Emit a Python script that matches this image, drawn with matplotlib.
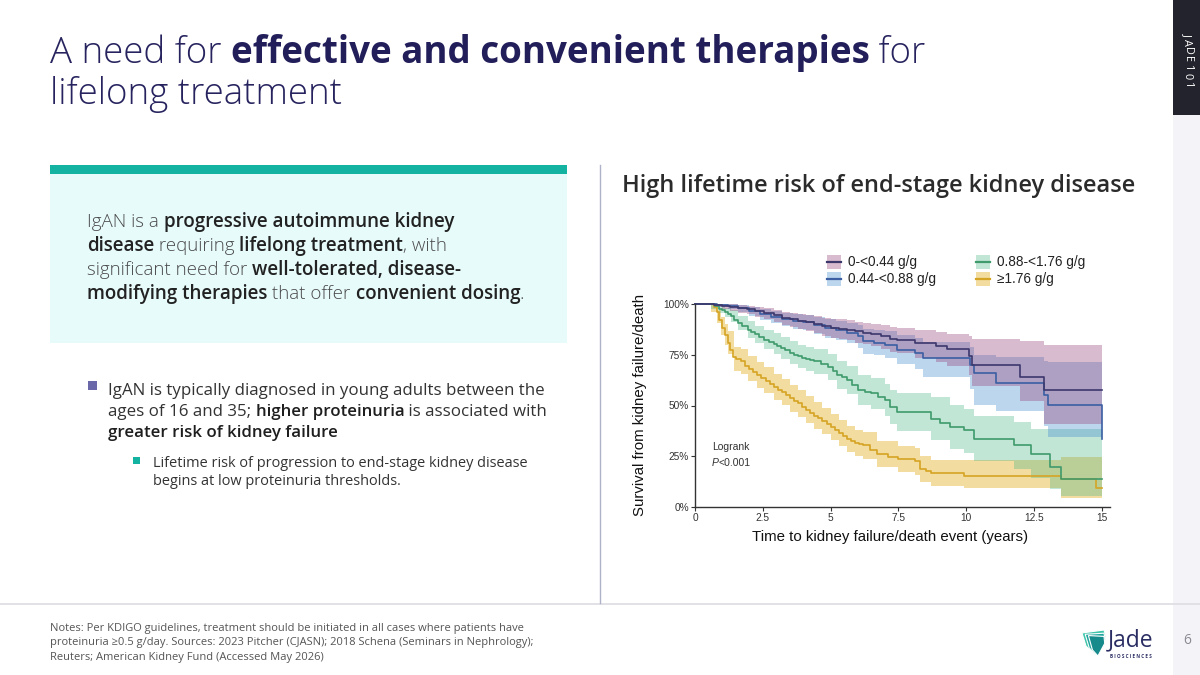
import numpy as np
import matplotlib.pyplot as plt
from matplotlib.patches import Rectangle, Polygon
from matplotlib.lines import Line2D
from matplotlib.font_manager import FontProperties

W, H = 1200, 675

# Kaplan-Meier curves (years, % surviving)
# lines and confidence bands use their own time grids
purple_t = [0, 0.7, 1.0, 1.3, 1.6, 1.9, 2.2, 2.55, 2.9, 3.2, 3.5, 3.8, 4.1, 4.4, 4.7, 5.0,
            5.3, 5.6, 5.9, 6.2, 6.5, 6.85, 7.2, 7.45, 8.1, 8.9, 9.3, 10.1, 10.2, 12.0, 12.85, 15.0]
purple_s = [100, 99.5, 99, 98.5, 98, 97.4, 96.5, 95.7, 94.5, 93.2, 92.5, 91.6, 91, 90, 89, 88.2,
            87.8, 87.4, 86.5, 85.8, 85, 84, 83, 82.5, 80.8, 79.1, 77.8, 74.2, 70, 64.2, 57.6, 57.6]
purple_hi = [100, 100, 100, 99.8, 99.5, 99.2, 98.6, 98, 97.2, 96.3, 95.8, 95, 94.6, 94, 93.3, 92.7,
             92.4, 92, 91.3, 90.8, 90.2, 89.5, 88.8, 88.4, 87.2, 86, 85.3, 84, 83, 82, 80, 80]
purple_lo = [100, 98.5, 97.5, 96.5, 95.8, 95, 93.8, 92.8, 91.3, 89.6, 88.7, 87.6, 86.8, 85.6, 84.4, 83.3,
             82.8, 82.2, 81, 80.1, 79.1, 77.8, 76.5, 75.8, 73.5, 71.3, 69.6, 64.8, 59.5, 52, 41, 41]

blue_t = [0, 0.8, 1.2, 1.6, 2.0, 2.4, 2.8, 3.2, 3.6, 4.0, 4.4, 4.8, 5.2, 5.6, 6.0, 6.2, 6.6,
          7.0, 7.45, 8.1, 8.4, 10.15, 10.3, 11.1, 12.85, 13.0, 15.0]
blue_s = [100, 99.5, 99, 98, 96.5, 95, 93.5, 92.5, 91.5, 91, 89.5, 88, 87, 85.8, 84, 81.6, 81,
          80, 77.5, 75.8, 73.3, 70, 66, 61, 55.1, 50.2, 33.6]
blue_hi = [100, 100, 100, 99.6, 98.6, 97.6, 96.5, 95.8, 95, 94.7, 93.6, 92.5, 91.7, 90.8, 89.5, 87.6, 87.2,
           86.5, 84.6, 83.3, 81.5, 79, 75, 74, 72, 71.5, 71.5]
blue_lo = [100, 98.5, 97.5, 96.2, 94.2, 92.3, 90.4, 89.1, 87.9, 87.2, 85.3, 83.4, 82.1, 80.6, 78.3, 75.4, 74.7,
           73.4, 70.4, 68.2, 64, 58, 50, 47.5, 40, 34.4, 34.4]

green_t = [0, 0.6, 0.75, 0.9, 1.0, 1.1, 1.2, 1.33, 1.45, 1.57, 1.75, 1.94, 2.07, 2.2, 2.37, 2.55,
           2.72, 2.9, 3.03, 3.16, 3.33, 3.5, 3.64, 3.78, 3.94, 4.1, 4.25, 4.4, 4.65, 4.9, 5.07, 5.25,
           5.42, 5.6, 5.8, 6.0, 6.25, 6.5, 6.75, 7.0, 7.2, 7.45, 8.7, 9.05, 9.4, 9.9, 10.3, 11.75,
           12.4, 13.1, 13.5, 15.0]
green_s = [100, 100, 99, 97.5, 96.8, 96, 95, 94, 92.3, 90.7, 89, 87.4, 86.2, 85, 83.7, 82.5,
           81.5, 80.5, 79.4, 78.3, 77.1, 76, 75.1, 74.2, 73.6, 73, 72.3, 71.7, 70.5, 69.2, 67, 65,
           63.8, 62.6, 60, 57.6, 56.8, 56, 54.3, 52.6, 49.3, 46.9, 43.5, 41.5, 39.4, 37.7, 33.6, 30.3,
           26.2, 19.5, 13.7, 13.7]
green_band_t = [0, 0.6, 0.9, 1.1, 1.33, 1.57, 1.94, 2.2, 2.55, 2.9, 3.16, 3.5, 3.78, 4.1, 4.4, 4.9,
                5.25, 5.6, 6.0, 6.5, 7.0, 7.2, 7.45, 8.7, 9.4, 9.9, 10.3, 11.75, 12.4, 13.1, 13.5, 15.0]
green_hi = [100, 100, 99.2, 98.2, 96.8, 94.2, 91.4, 89.3, 87.2, 85.5, 83.6, 81.6, 80, 79, 77.9, 75.6,
            71.8, 69.6, 65, 63.6, 60.5, 57.5, 56, 54, 50, 48.5, 45, 42, 38.4, 38.4, 38.4, 38.4]
green_lo = [100, 97.5, 95.5, 93.5, 91.2, 87.2, 83.4, 80.7, 77.8, 75.5, 73, 70.4, 68.4, 67, 65.5, 62.8,
            58.2, 55.6, 50.2, 48.4, 44.7, 41.1, 37.5, 33, 28.5, 26.5, 22.5, 18.5, 14.5, 9, 5.5, 5.5]

yellow_t = [0, 0.6, 0.7, 0.8, 0.9, 1.0, 1.1, 1.2, 1.3, 1.4, 1.5, 1.7, 1.85, 2.0, 2.15, 2.3,
            2.45, 2.6, 2.75, 2.9, 3.05, 3.2, 3.35, 3.5, 3.65, 3.8, 3.95, 4.1, 4.25, 4.4, 4.55, 4.7,
            4.85, 5.0, 5.15, 5.3, 5.45, 5.6, 5.75, 5.9, 6.05, 6.2, 6.45, 6.7, 7.1, 7.5, 8.1, 8.3,
            8.5, 8.7, 9.9, 13.5, 14.8, 15.0]
yellow_s = [100, 100, 98.5, 96, 92, 88, 84.5, 81, 77.5, 74, 73, 71.7, 69.5, 67.8, 66.5, 65,
            63.5, 62.2, 60.5, 59, 57.8, 56.5, 55, 53.5, 52.2, 51, 49.5, 48, 46.5, 45, 43.8, 42.5,
            41, 39.4, 38, 36.5, 35, 33.6, 32.5, 31.5, 30.8, 30.3, 28, 26, 24.5, 23.7, 22.5, 18.7,
            17.5, 16.6, 15.4, 13.7, 9.6, 9.6]
yellow_band_t = [0, 0.6, 0.8, 0.96, 1.1, 1.2, 1.45, 1.7, 1.94, 2.3, 2.55, 2.9, 3.2, 3.5, 3.78, 4.1,
                 4.4, 4.7, 5.0, 5.3, 5.6, 5.9, 6.2, 6.7, 7.5, 8.1, 8.3, 8.7, 9.9, 13.5, 14.8, 15.0]
yellow_hi = [100, 99.5, 97, 93.5, 90, 86.5, 79, 77.8, 74.6, 71.3, 69, 65.5, 63, 60, 57.6, 54.6,
             51.6, 49, 46, 43, 40, 38, 36.8, 32.4, 30, 29, 25, 23, 23, 24.5, 24.5, 24.5]
yellow_lo = [100, 96, 90.5, 84.5, 80, 75.2, 67, 65.6, 62.2, 58.7, 56.2, 52.5, 50, 47, 44.4, 41.4,
             38.4, 36, 32.8, 30, 27.2, 25, 23.8, 19.6, 17.4, 16, 12.4, 10.4, 9.6, 4.6, 4.6, 4.6]

group_labels = ["0-<0.44 g/g", "0.44-<0.88 g/g", "0.88-<1.76 g/g", "\u22651.76 g/g"]
x_ticks = [0, 2.5, 5, 7.5, 10, 12.5, 15]
x_tick_labels = ["0", "2.5", "5", "7.5", "10", "12.5", "15"]
y_ticks = [0, 25, 50, 75, 100]
y_tick_labels = ["0%", "25%", "50%", "75%", "100%"]

SLIDE_FONT = ['Open Sans', 'DejaVu Sans']
CHART_FONT = ['Liberation Sans', 'DejaVu Sans']
NAVY = '#26235e'

fig = plt.figure(figsize=(12, 6.75), dpi=100)
fig.patch.set_facecolor('white')
renderer = fig.canvas.get_renderer()


def fx(x):
    return x / W


def fy(y):
    return 1 - y / H


def rect(x0, y0, x1, y1, color):
    fig.add_artist(Rectangle((fx(x0), fy(y1)), (x1 - x0) / W, (y1 - y0) / H,
                             transform=fig.transFigure, facecolor=color, edgecolor='none'))


def hline(x0, x1, y, color, lw=1.0):
    fig.add_artist(Line2D([fx(x0), fx(x1)], [fy(y), fy(y)], transform=fig.transFigure,
                          color=color, lw=lw))


def text_w(s, size, weight, style, family):
    fp = FontProperties(family=family, size=size, weight=weight, style=style)
    w1, _, _ = renderer.get_text_width_height_descent('x' + s + 'x', fp, ismath=False)
    w0, _, _ = renderer.get_text_width_height_descent('xx', fp, ismath=False)
    return w1 - w0


def rich_width(parts, size, family=SLIDE_FONT):
    return sum(text_w(p[0], size, p[1], p[3] if len(p) > 3 else 'normal', family) for p in parts)


def fit(parts, target, family=SLIDE_FONT):
    # font size (pt) at which this line spans `target` pixels
    return 10 * target / rich_width(parts, 10, family)


def rich_line(x, y, parts, size, family=SLIDE_FONT):
    # parts: (text, weight, color) or (text, weight, color, style)
    for p in parts:
        s, weight, color = p[:3]
        style = p[3] if len(p) > 3 else 'normal'
        fig.text(fx(x), fy(y), s, fontsize=size, fontweight=weight, fontstyle=style,
                 color=color, family=family, va='baseline', ha='left')
        x += text_w(s, size, weight, style, family)


# ---- slide frame ----
rect(1173, 0, 1200, 675, '#f4f4f8')
rect(1173, 0, 1200, 115, '#23232e')
for i, ch in enumerate("JADE101"):
    fig.text(fx(1187), fy(34 + i * 8.5), ch, rotation=-90, color='white', fontsize=7.8,
             family=SLIDE_FONT, ha='center', va='center')
hline(0, 1200, 603.5, '#dcdce2', lw=1.2)
fig.add_artist(Line2D([fx(600), fx(600)], [fy(165), fy(603)], transform=fig.transFigure,
                      color='#aeb2c8', lw=1.0))
fig.text(fx(1187), fy(641), "6", color='#8a8a95', fontsize=10, family=SLIDE_FONT,
         ha='center', va='center')

# ---- title ----
title1 = [("A need for ", 'light', NAVY),
          ("effective and convenient therapies", 'bold', '#221e5a'),
          (" for", 'light', NAVY)]
ts = min(fit(title1, 878), 28)
rich_line(50, 63, title1, ts)
rich_line(50, 104, [("lifelong treatment", 'light', NAVY)], ts)

# ---- highlight box ----
rect(50, 165, 567, 343, '#e8fbfb')
rect(50, 165, 567, 174, '#14b3a1')
NT, BT = '#4a4a4a', '#222222'
box_lines = [
    [("IgAN is a ", 'light', NT), ("progressive autoimmune kidney", 'semibold', BT)],
    [("disease", 'semibold', BT), (" requiring ", 'light', NT), ("lifelong treatment", 'semibold', BT),
     (", with", 'light', NT)],
    [("significant need for ", 'light', NT), ("well-tolerated, disease-", 'semibold', BT)],
    [("modifying therapies", 'semibold', BT), (" that offer ", 'light', NT),
     ("convenient dosing", 'semibold', BT), (".", 'light', NT)],
]
bs = min(fit(box_lines[0], 376), 13.5)
for i, parts in enumerate(box_lines):
    rich_line(87, 227 + i * 24, parts, bs)

# ---- bullets ----
rect(88, 381, 97, 390, '#6a68a8')
BL = '#333333'
bullet_lines = [
    [("IgAN is typically diagnosed in young adults between the", 'normal', BL)],
    [("ages of 16 and 35; ", 'normal', BL), ("higher proteinuria", 'semibold', '#1e1e1e'),
     (" is associated with", 'normal', BL)],
    [("greater risk of kidney failure", 'semibold', '#1e1e1e')],
]
us = min(fit(bullet_lines[0], 438), 12.5)
for i, parts in enumerate(bullet_lines):
    rich_line(108, 395 + i * 21, parts, us)

rect(133, 457, 140, 464, '#14b3a1')
sub_lines = [[("Lifetime risk of progression to end-stage kidney disease", 'normal', BL)],
             [("begins at low proteinuria thresholds.", 'normal', BL)]]
ss = min(fit(sub_lines[0], 376), 11)
for i, parts in enumerate(sub_lines):
    rich_line(153, 467 + i * 18, parts, ss)

# ---- notes ----
notes = ["Notes: Per KDIGO guidelines, treatment should be initiated in all cases where patients have",
         "proteinuria \u22650.5 g/day. Sources: 2023 Pitcher (CJASN); 2018 Schena (Seminars in Nephrology);",
         "Reuters; American Kidney Fund (Accessed May 2026)"]
ns = min(fit([(notes[1], 'normal', '#555555')], 481), 8.5)
for i, line in enumerate(notes):
    rich_line(50, 631 + i * 14.5, [(line, 'normal', '#555555')], ns)

# ---- logo ----
logo_cols = ['#3cc4a9', '#22a59e', '#178a8c']
for k, c in enumerate(logo_cols):
    dx = k * 3.2
    fig.add_artist(Polygon([(fx(1082 + dx), fy(633 + dx * 0.4)), (fx(1104), fy(630 + dx)),
                            (fx(1106 - dx * 0.2), fy(637 + dx)), (fx(1096 + dx * 0.3), fy(656)),
                            (fx(1086 + dx), fy(646 + dx * 0.6))],
                           closed=True, transform=fig.transFigure, facecolor=c,
                           edgecolor='white', lw=0.8))
fig.text(fx(1108), fy(646), "Jade", fontsize=16.5, color='#2a2d62', family=SLIDE_FONT,
         ha='left', va='baseline')
fig.text(fx(1110), fy(656.5), "B I O S C I E N C E S", fontsize=3.3, color='#2a2d62',
         family=SLIDE_FONT, ha='left', va='center', fontweight='bold')

# ---- chart ----
ctitle = [("High lifetime risk of end-stage kidney disease", 'semibold', '#2b2b2b')]
rich_line(622, 192, ctitle, min(fit(ctitle, 518), 17))

ax = fig.add_axes([fx(695), fy(507), 415 / W, 203 / H])
groups = [
    # line t, s, band t, lo, hi, band colour, alpha, line colour, legend swatch
    (yellow_t, yellow_s, yellow_band_t, yellow_lo, yellow_hi, '#e1a812', 0.40, '#d6a424', '#f3dca0'),
    (green_t, green_s, green_band_t, green_lo, green_hi, '#51b88a', 0.35, '#3f9a6c', '#c2e6d6'),
    (blue_t, blue_s, blue_t, blue_lo, blue_hi, '#3f8ace', 0.35, '#3b5fa2', '#bcd6ee'),
    (purple_t, purple_s, purple_t, purple_lo, purple_hi, '#923c76', 0.35, '#3c386c', '#d9bbcf'),
]
for t, s, bt, lo, hi, band, a, line, sw in groups:
    ax.fill_between(bt, lo, hi, step='post', color=band, alpha=a, lw=0)
for t, s, bt, lo, hi, band, a, line, sw in groups:
    ax.step(t, s, where='post', color=line, lw=1.2, clip_on=False)

ax.set_xlim(0, 15.3)
ax.set_ylim(0, 100)
ax.set_xticks(x_ticks)
ax.set_xticklabels(x_tick_labels)
ax.set_yticks(y_ticks)
ax.set_yticklabels(y_tick_labels)
for side in ['top', 'right']:
    ax.spines[side].set_visible(False)
for side in ['left', 'bottom']:
    ax.spines[side].set_color('#333333')
    ax.spines[side].set_linewidth(1.0)
ax.tick_params(length=3, width=0.8, color='#333333', labelsize=7.3, labelcolor='#333333', pad=1.5)
for lab in ax.get_xticklabels() + ax.get_yticklabels():
    lab.set_family(CHART_FONT)
ax.patch.set_alpha(0)

ax.text(0.63, 29.5, "Logrank", fontsize=7.5, color='#333333', family=CHART_FONT, va='center')
rich_line(711.5, 466, [("P", 'normal', '#333333', 'italic'), ("<0.001", 'normal', '#333333')],
          7.5, family=CHART_FONT)

fig.text(fx(640), fy(405), "Survival from kidney failure/death", rotation=90, fontsize=10.8,
         color='#111111', family=CHART_FONT, ha='center', va='center')
fig.text(fx(890), fy(537), "Time to kidney failure/death event (years)", fontsize=10.8,
         color='#111111', family=CHART_FONT, ha='center', va='center')

# legend, two columns above the plot
leg_pos = [(827, 262), (827, 279), (976, 262), (976, 279)]
order = [3, 2, 1, 0]
for (lx, ly), gi, lab in zip(leg_pos, order, group_labels):
    g = groups[gi]
    rect(lx, ly - 6.5, lx + 14, ly + 6.5, g[8])
    hline(lx, lx + 14, ly, g[7], lw=1.6)
    fig.text(fx(lx + 21), fy(ly), lab, fontsize=9.8, color='#222222', family=CHART_FONT,
             ha='left', va='center')

fig.savefig("out.png", dpi=100, facecolor='white')
